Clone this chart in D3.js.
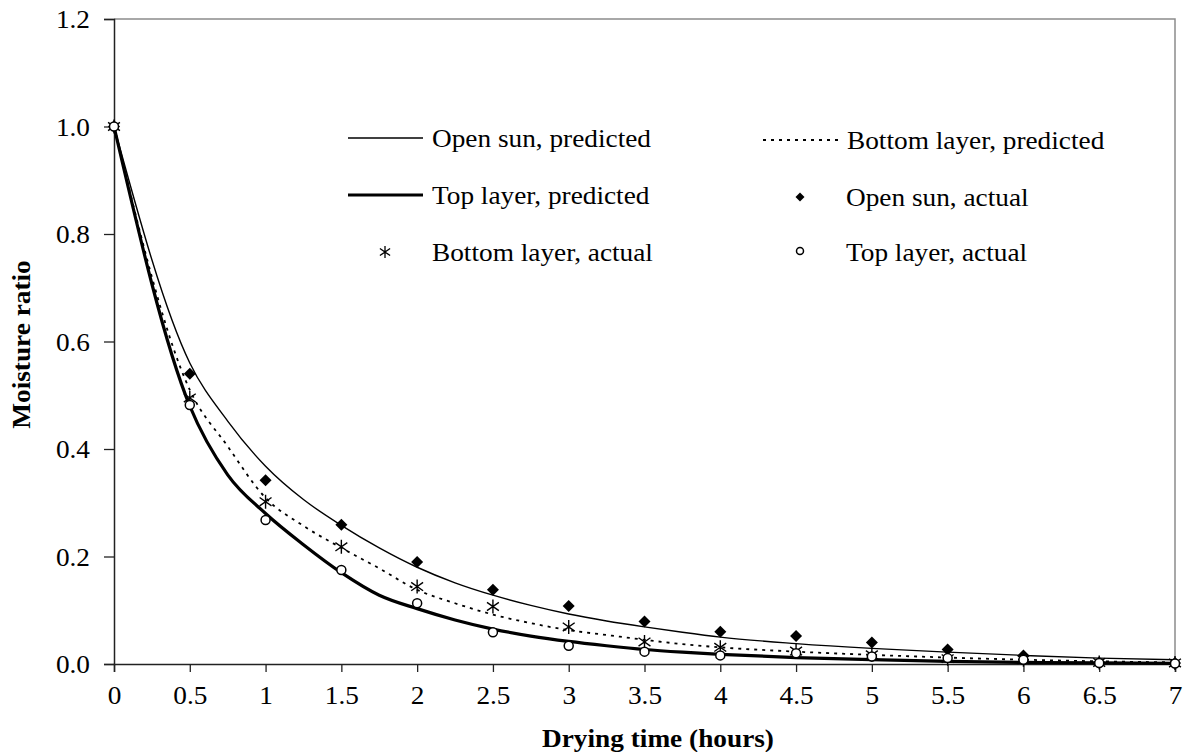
<!DOCTYPE html>
<html lang="en">

<head>
    <meta charset="UTF-8">
    <title>Moisture ratio vs drying time</title>

    <script src="https://d3js.org/d3.v7.min.js"></script>

    <style>
        body {
            margin: 0;
            background: #fff;
        }

        text {
            font-family: "Liberation Serif", "Times New Roman", serif;
            fill: #000;
        }

        .tick_label {
            font-size: 25.5px;
        }

        .axis_title {
            font-size: 25.5px;
            font-weight: bold;
        }

        .legend_text {
            font-size: 25.5px;
        }
    </style>

</head>

<body>
    <svg width="1190" height="752"></svg>

    <script>
        // predicted curves (hours / moisture ratio)
        const predTime = [0, 0.5, 0.75, 1, 1.25, 1.5, 1.75, 2, 2.25, 2.5, 2.75, 3, 3.25, 3.5, 3.75, 4, 4.5, 5, 5.5, 6, 6.5, 7];
        const openSunPred = [1, 0.56, 0.452, 0.368, 0.306, 0.258, 0.216, 0.18, 0.151, 0.128, 0.109, 0.093, 0.08, 0.069, 0.059, 0.05, 0.038, 0.029, 0.022, 0.016, 0.011, 0.008];
        const bottomPred = [1, 0.51, 0.405, 0.309, 0.257, 0.216, 0.178, 0.138, 0.113, 0.092, 0.076, 0.063, 0.054, 0.045, 0.037, 0.031, 0.023, 0.017, 0.012, 0.008, 0.005, 0.003];
        const topPred = [1, 0.48, 0.352, 0.28, 0.222, 0.17, 0.128, 0.103, 0.082, 0.065, 0.052, 0.042, 0.034, 0.027, 0.022, 0.018, 0.012, 0.008, 0.005, 0.003, 0.002, 0.001];

        // measured points
        const actualTime = [0, 0.5, 1, 1.5, 2, 2.5, 3, 3.5, 4, 4.5, 5, 5.5, 6, 6.5, 7];
        const openSunActual = [1, 0.54, 0.342, 0.259, 0.19, 0.138, 0.108, 0.079, 0.06, 0.052, 0.04, 0.027, 0.016, 0.003, 0.002];
        const bottomActual = [1, 0.495, 0.302, 0.218, 0.144, 0.107, 0.069, 0.041, 0.031, 0.024, 0.017, 0.01, 0.008, 0.003, 0.002];
        const topActual = [1, 0.482, 0.268, 0.175, 0.113, 0.059, 0.034, 0.023, 0.016, 0.02, 0.014, 0.011, 0.008, 0.002, 0.001];

        const xTicks = d3.range(0, 7.01, 0.5);
        const yTicks = [0, 0.2, 0.4, 0.6, 0.8, 1.0, 1.2];

        const svg = d3.select("svg");

        const x = d3.scaleLinear().domain([0, 7]).range([114, 1175]);
        const y = d3.scaleLinear().domain([0, 1.2]).range([664, 19]);

        // frame (top and right) in grey
        svg.append("path")
            .attr("d", `M${x(0)},${y(1.2)}H${x(7)}V${y(0)}`)
            .attr("fill", "none")
            .attr("stroke", "#8c8c8c")
            .attr("stroke-width", 1.5);

        // axes
        const yAxis = svg.append("g")
            .attr("transform", `translate(${x(0)},0)`)
            .call(d3.axisLeft(y).tickValues(yTicks).tickSize(10).tickPadding(14).tickFormat(d3.format(".1f")));

        const xAxis = svg.append("g")
            .attr("transform", `translate(0,${y(0)})`)
            .call(d3.axisBottom(x).tickValues(xTicks).tickSize(8).tickPadding(14).tickFormat(d => d3.format("")(d)));

        [xAxis, yAxis].forEach(function (g) {
            g.attr("font-family", null).attr("font-size", null);
            g.select(".domain").attr("stroke", "#222").attr("stroke-width", 1.5);
            g.selectAll(".tick line").attr("stroke", "#222").attr("stroke-width", 1.3);
            g.selectAll(".tick text")
                .attr("class", "tick_label")
                .attr("fill", "#000");
        });
        yAxis.selectAll(".tick text").attr("dy", "0.35em");
        xAxis.selectAll(".tick text").attr("dy", "0.71em");

        // axis titles
        svg.append("text")
            .attr("class", "axis_title")
            .attr("x", 658)
            .attr("y", 747)
            .attr("text-anchor", "middle")
            .text("Drying time (hours)");

        svg.append("text")
            .attr("class", "axis_title")
            .attr("transform", `translate(30,${(y(0) + y(1.2)) / 2 + 3}) rotate(-90)`)
            .attr("text-anchor", "middle")
            .text("Moisture ratio");

        // predicted lines
        const line = d3.line()
            .x((d, i) => x(predTime[i]))
            .y(d => y(d))
            .curve(d3.curveMonotoneX);

        const lineStyles = [
            { values: openSunPred, width: 1.4, dash: null },
            { values: bottomPred, width: 1.8, dash: "3,5" },
            { values: topPred, width: 3.2, dash: null }
        ];

        svg.append("g").selectAll("path")
            .data(lineStyles)
            .enter()
            .append("path")
            .attr("d", d => line(d.values))
            .attr("fill", "none")
            .attr("stroke", "#000")
            .attr("stroke-width", d => d.width)
            .attr("stroke-dasharray", d => d.dash);

        // marker shapes
        function diamond(h) {
            return `M0,${-h}L${h},0L0,${h}L${-h},0Z`;
        }

        function star(h) {
            const a = h * 0.85;
            return `M0,${-h}V${h}M${-a},${-a * 0.7}L${a},${a * 0.7}M${-a},${a * 0.7}L${a},${-a * 0.7}`;
        }

        svg.append("g").selectAll("path")
            .data(openSunActual)
            .enter()
            .append("path")
            .attr("transform", (d, i) => `translate(${x(actualTime[i])},${y(d)})`)
            .attr("d", diamond(6))
            .attr("fill", "#000");

        svg.append("g").selectAll("path")
            .data(bottomActual)
            .enter()
            .append("path")
            .attr("transform", (d, i) => `translate(${x(actualTime[i])},${y(d)})`)
            .attr("d", star(7))
            .attr("fill", "none")
            .attr("stroke", "#000")
            .attr("stroke-width", 1.4);

        svg.append("g").selectAll("circle")
            .data(topActual)
            .enter()
            .append("circle")
            .attr("cx", (d, i) => x(actualTime[i]))
            .attr("cy", d => y(d))
            .attr("r", 4.5)
            .attr("fill", "#fff")
            .attr("stroke", "#000")
            .attr("stroke-width", 1.5);

        // legend
        const legend = svg.append("g");

        const legendLines = [
            { lx: 348, ly: 138, label: "Open sun, predicted", width: 1.4, dash: null },
            { lx: 763, ly: 140, label: "Bottom layer, predicted", width: 1.8, dash: "3,5" },
            { lx: 348, ly: 195, label: "Top layer, predicted", width: 3.2, dash: null }
        ];

        legendLines.forEach(function (d) {
            legend.append("line")
                .attr("x1", d.lx).attr("x2", d.lx + 75)
                .attr("y1", d.ly).attr("y2", d.ly)
                .attr("stroke", "#000")
                .attr("stroke-width", d.width)
                .attr("stroke-dasharray", d.dash);
            legend.append("text")
                .attr("class", "legend_text")
                .attr("x", d.lx + 84)
                .attr("y", d.ly + 9)
                .text(d.label);
        });

        legend.append("path")
            .attr("transform", "translate(800,197)")
            .attr("d", diamond(4.5))
            .attr("fill", "#000");
        legend.append("text").attr("class", "legend_text")
            .attr("x", 846).attr("y", 206).text("Open sun, actual");

        legend.append("path")
            .attr("transform", "translate(385,252)")
            .attr("d", star(6))
            .attr("fill", "none")
            .attr("stroke", "#000")
            .attr("stroke-width", 1.3);
        legend.append("text").attr("class", "legend_text")
            .attr("x", 432).attr("y", 261).text("Bottom layer, actual");

        legend.append("circle")
            .attr("cx", 800).attr("cy", 251).attr("r", 3.5)
            .attr("fill", "#fff")
            .attr("stroke", "#000")
            .attr("stroke-width", 1.5);
        legend.append("text").attr("class", "legend_text")
            .attr("x", 846).attr("y", 261).text("Top layer, actual");

        // the reference type is set a little wider than the font's own width
        svg.selectAll("text").each(function () {
            const w = this.getComputedTextLength();
            d3.select(this)
                .attr("textLength", w * 1.07)
                .attr("lengthAdjust", "spacingAndGlyphs");
        });
    </script>
</body>

</html>
